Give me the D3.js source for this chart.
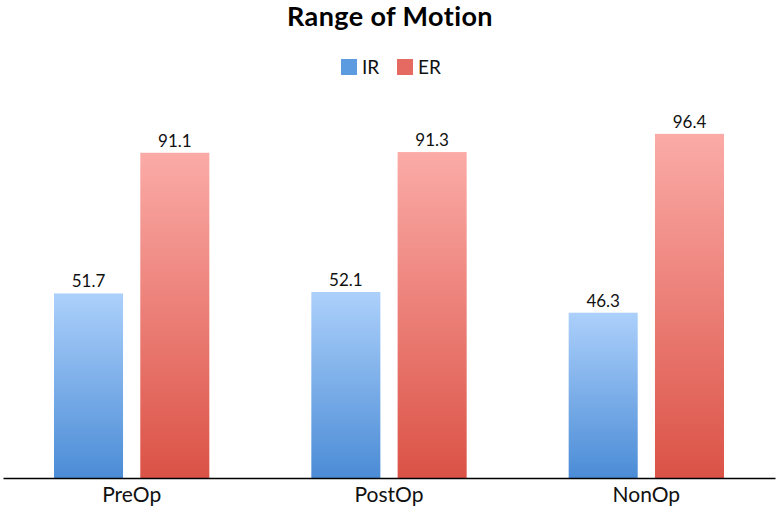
<!DOCTYPE html>
<html>
<head>
<meta charset="utf-8">
<script src="https://cdn.jsdelivr.net/npm/d3@7"></script>
<style>
  body { margin: 0; background: #fff; }
  svg { display: block; font-family: Lato, "Open Sans", sans-serif; }
</style>
</head>
<body>
<div id="chart"></div>
<script>
// data
const categories = ["PreOp", "PostOp", "NonOp"]
const seriesNames = ["IR", "ER"]
const irValues = [51.7, 52.1, 46.3]
const erValues = [91.1, 91.3, 96.4]

const width = 778
const height = 514
const margin = { top: 121, right: 3, bottom: 36, left: 3 }
const baseY = height - margin.bottom

const svg = d3.select("#chart").append("svg")
    .attr("width", width)
    .attr("height", height)

// gradients
const defs = svg.append("defs")
const grads = [
    { id: "gIR", top: "#acd0fb", bottom: "#4b8cd6" },
    { id: "gER", top: "#fbaba7", bottom: "#db5246" }
]
grads.forEach(g => {
    const lg = defs.append("linearGradient")
        .attr("id", g.id)
        .attr("x1", 0).attr("y1", 0).attr("x2", 0).attr("y2", 1)
    lg.append("stop").attr("offset", "0%").attr("stop-color", g.top)
    lg.append("stop").attr("offset", "100%").attr("stop-color", g.bottom)
})
const legendFill = { IR: "#5d9be0", ER: "#e46a62" }

// scales
const xScale = d3.scaleBand()
    .domain(categories)
    .range([margin.left, width - margin.right])
    .padding(0)

const xInner = d3.scaleBand()
    .domain(seriesNames)
    .range([51, xScale.bandwidth() - 51])
    .paddingInner(0.2)

const yScale = d3.scaleLinear()
    .domain([0, 100])
    .range([baseY, margin.top])

const rows = categories.map((c, i) => ({ cat: c, IR: irValues[i], ER: erValues[i] }))

const groups = svg.selectAll("g.cat")
    .data(rows)
    .enter().append("g")
        .attr("class", "cat")
        .attr("transform", d => `translate(${xScale(d.cat)},0)`)

const bars = groups.selectAll("g.bar")
    .data(d => seriesNames.map(s => ({ key: s, value: d[s] })))
    .enter().append("g")
        .attr("class", "bar")

bars.append("rect")
    .attr("x", d => xInner(d.key))
    .attr("y", d => yScale(d.value))
    .attr("width", xInner.bandwidth())
    .attr("height", d => baseY - yScale(d.value))
    .attr("fill", d => d.key == "IR" ? "url(#gIR)" : "url(#gER)")

bars.append("text")
    .attr("x", d => xInner(d.key) + xInner.bandwidth() / 2)
    .attr("y", d => yScale(d.value) - 6)
    .attr("text-anchor", "middle")
    .attr("font-size", 17)
    .attr("fill", "#111")
    .text(d => d.value.toFixed(1))

// axis
const xAxis = svg.append("g")
    .attr("transform", `translate(0,${baseY})`)
    .call(d3.axisBottom(xScale).tickSize(0).tickPadding(9))
xAxis.select(".domain").attr("stroke", "#000").attr("stroke-width", 1.3)
xAxis.selectAll("text")
    .attr("font-size", 21)
    .attr("font-family", "Lato, 'Open Sans', sans-serif")
    .attr("fill", "#111")

// title
svg.append("text")
    .attr("x", width / 2 + 1)
    .attr("y", 26)
    .attr("text-anchor", "middle")
    .attr("font-size", 27)
    .attr("font-weight", "bold")
    .attr("letter-spacing", 0.4)
    .attr("fill", "#000")
    .text("Range of Motion")

// legend
const legend = svg.append("g").attr("transform", "translate(341,59)")
const legendItems = legend.selectAll("g")
    .data(seriesNames)
    .enter().append("g")
        .attr("transform", (d, i) => `translate(${i * 56},0)`)
legendItems.append("rect")
    .attr("width", 16).attr("height", 16)
    .attr("fill", d => legendFill[d])
legendItems.append("text")
    .attr("x", 21).attr("y", 15)
    .attr("font-size", 19)
    .attr("fill", "#111")
    .text(d => d)
</script>
</body>
</html>
